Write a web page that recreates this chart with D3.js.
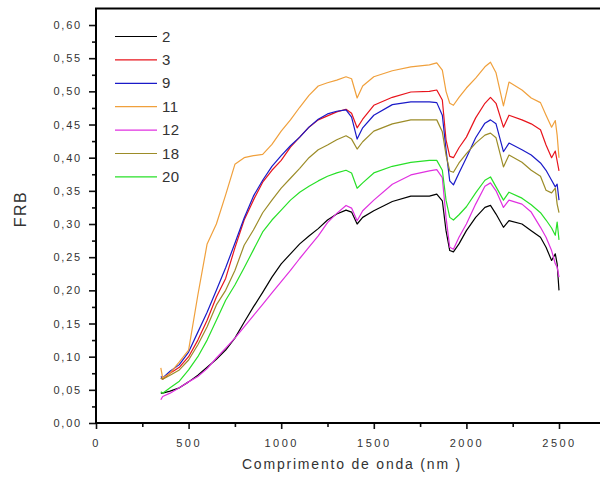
<!DOCTYPE html>
<html><head><meta charset="utf-8">
<script src="https://cdn.jsdelivr.net/npm/d3@7"></script>
<style>
html,body{margin:0;padding:0;background:#fff;}
svg{display:block;}
</style></head>
<body>
<svg id="chart" width="600" height="482"></svg>
<script>
const wavelengths = [350,360,400,450,500,550,600,650,700,750,800,850,900,950,1000,1050,1100,1150,1200,1250,1300,1350,1380,1410,1440,1500,1600,1700,1800,1840,1870,1890,1910,1930,1960,2000,2050,2100,2130,2160,2200,2230,2300,2350,2400,2430,2460,2480,2490,2500];

const s2  = [0.045,0.045,0.048,0.053,0.062,0.072,0.084,0.096,0.110,0.128,0.152,0.175,0.197,0.220,0.240,0.255,0.270,0.282,0.293,0.306,0.315,0.321,0.318,0.300,0.310,0.320,0.334,0.342,0.342,0.345,0.335,0.290,0.260,0.258,0.270,0.290,0.310,0.325,0.328,0.315,0.295,0.305,0.300,0.290,0.280,0.265,0.245,0.255,0.240,0.200];
const s3  = [0.068,0.066,0.075,0.084,0.100,0.125,0.155,0.190,0.218,0.264,0.306,0.336,0.363,0.381,0.396,0.416,0.431,0.446,0.457,0.463,0.469,0.473,0.467,0.445,0.458,0.479,0.491,0.499,0.500,0.502,0.487,0.427,0.402,0.400,0.415,0.431,0.460,0.482,0.491,0.482,0.446,0.464,0.457,0.451,0.442,0.419,0.400,0.410,0.395,0.380];
const s9  = [0.070,0.068,0.078,0.088,0.107,0.137,0.167,0.200,0.234,0.271,0.309,0.342,0.366,0.387,0.403,0.418,0.431,0.446,0.458,0.466,0.470,0.472,0.461,0.428,0.445,0.464,0.480,0.484,0.484,0.483,0.464,0.412,0.365,0.359,0.377,0.400,0.430,0.452,0.457,0.451,0.409,0.422,0.412,0.404,0.392,0.381,0.366,0.356,0.360,0.336];
const s11 = [0.083,0.068,0.075,0.092,0.110,0.193,0.270,0.300,0.344,0.390,0.400,0.403,0.405,0.420,0.440,0.457,0.476,0.494,0.508,0.513,0.517,0.522,0.519,0.490,0.508,0.522,0.531,0.537,0.540,0.543,0.532,0.500,0.482,0.479,0.491,0.505,0.520,0.537,0.544,0.528,0.478,0.514,0.502,0.490,0.483,0.464,0.446,0.456,0.434,0.400];
const s12 = [0.035,0.040,0.045,0.053,0.062,0.070,0.082,0.098,0.113,0.128,0.145,0.162,0.179,0.196,0.213,0.230,0.248,0.265,0.282,0.302,0.316,0.328,0.324,0.305,0.320,0.336,0.360,0.374,0.380,0.382,0.370,0.310,0.265,0.262,0.280,0.300,0.330,0.357,0.362,0.350,0.325,0.336,0.330,0.318,0.295,0.280,0.260,0.240,0.235,0.220];
const s18 = [0.068,0.066,0.072,0.080,0.095,0.118,0.145,0.178,0.200,0.230,0.268,0.291,0.317,0.336,0.354,0.369,0.384,0.400,0.412,0.419,0.427,0.433,0.428,0.413,0.424,0.440,0.451,0.457,0.457,0.457,0.439,0.404,0.380,0.378,0.392,0.406,0.422,0.434,0.437,0.430,0.386,0.404,0.393,0.381,0.372,0.351,0.347,0.354,0.330,0.317];
const s20 = [0.047,0.045,0.053,0.063,0.080,0.100,0.125,0.155,0.185,0.208,0.234,0.261,0.288,0.306,0.321,0.336,0.348,0.357,0.365,0.372,0.377,0.381,0.377,0.354,0.362,0.377,0.387,0.393,0.396,0.396,0.381,0.336,0.310,0.306,0.314,0.326,0.347,0.366,0.371,0.356,0.336,0.348,0.339,0.329,0.317,0.306,0.294,0.283,0.303,0.276];

const seriesNames = ["2","3","9","11","12","18","20"];
const seriesValues = [s2,s3,s9,s11,s12,s18,s20];
const seriesColors = ["#000000","#e8141c","#1a1ac8","#f0a03c","#e030e0","#9c8c28","#28e028"];

const xMajorTicks = [0,500,1000,1500,2000,2500];
const yMajorTicks = [0,0.05,0.10,0.15,0.20,0.25,0.30,0.35,0.40,0.45,0.50,0.55,0.60];

const svg = d3.select("#chart");
const x = d3.scaleLinear().domain([0,2800]).range([96, 96 + 2800*463/2500]);
const y = d3.scaleLinear().domain([0,0.625]).range([423, 423 - 0.625*663.3]);

// minor ticks
const xMinor = d3.range(250, 2800, 500);
const yMinor = d3.range(0.025, 0.625, 0.05);

const gx = svg.append("g").attr("transform","translate(0,423)");
gx.call(d3.axisBottom(x).tickValues(xMinor).tickSize(4).tickFormat(""));
const gx2 = svg.append("g").attr("transform","translate(0,423)");
gx2.call(d3.axisBottom(x).tickValues(xMajorTicks).tickSize(6).tickPadding(10).tickFormat(d3.format("d")));

const gy = svg.append("g").attr("transform","translate(96,0)");
gy.call(d3.axisLeft(y).tickValues(yMinor).tickSize(4).tickFormat(""));
const gy2 = svg.append("g").attr("transform","translate(96,0)");
gy2.call(d3.axisLeft(y).tickValues(yMajorTicks).tickSize(7).tickPadding(5).tickFormat(d => d3.format(".2f")(d).replace(".", ",")));

svg.selectAll(".domain").remove();
svg.selectAll(".tick line").attr("stroke","#111").attr("stroke-width",1.6);
gx2.selectAll("text").attr("font-family","Arial, 'Liberation Sans', sans-serif").attr("font-size","11px").attr("fill","#333").attr("letter-spacing","2.5px");
gy2.selectAll("text").attr("font-family","Arial, 'Liberation Sans', sans-serif").attr("font-size","11px").attr("fill","#333").attr("letter-spacing","1.8px").attr("dx","-2");

// frame lines
svg.append("line").attr("x1",96).attr("x2",600).attr("y1",423).attr("y2",423).attr("stroke","#000").attr("stroke-width",2);
svg.append("line").attr("x1",96).attr("x2",96).attr("y1",8).attr("y2",424).attr("stroke","#000").attr("stroke-width",2);
svg.append("line").attr("x1",95).attr("x2",600).attr("y1",8.5).attr("y2",8.5).attr("stroke","#000").attr("stroke-width",2);

// series lines
const line = d3.line().x((d,i) => x(wavelengths[i])).y(d => y(d));
seriesValues.forEach((vals, k) => {
  svg.append("path").datum(vals)
    .attr("fill","none").attr("stroke",seriesColors[k]).attr("stroke-width",1.2)
    .attr("stroke-linejoin","round").attr("d", line);
});

// legend
const lg = svg.append("g");
seriesNames.forEach((n,k) => {
  const yy = 36.5 + k*23.4;
  lg.append("line").attr("x1",115).attr("x2",157).attr("y1",yy).attr("y2",yy).attr("stroke",seriesColors[k]).attr("stroke-width",1.2);
  lg.append("text").attr("x",162).attr("y",yy+5).text(n)
    .attr("font-family","Arial, 'Liberation Sans', sans-serif").attr("font-size","15px").attr("fill","#333").attr("letter-spacing","0.5px");
});

// axis titles
svg.append("text").attr("x",352).attr("y",469).attr("text-anchor","middle")
  .attr("font-family","Arial, 'Liberation Sans', sans-serif").attr("font-size","14px").attr("fill","#333").attr("letter-spacing","1.8px")
  .text("Comprimento de onda (nm )");
svg.append("text").attr("transform","translate(26,209) rotate(-90)").attr("text-anchor","middle")
  .attr("font-family","Arial, 'Liberation Sans', sans-serif").attr("font-size","16px").attr("fill","#333").attr("letter-spacing","1.5px")
  .text("FRB");
</script>
</body></html>
